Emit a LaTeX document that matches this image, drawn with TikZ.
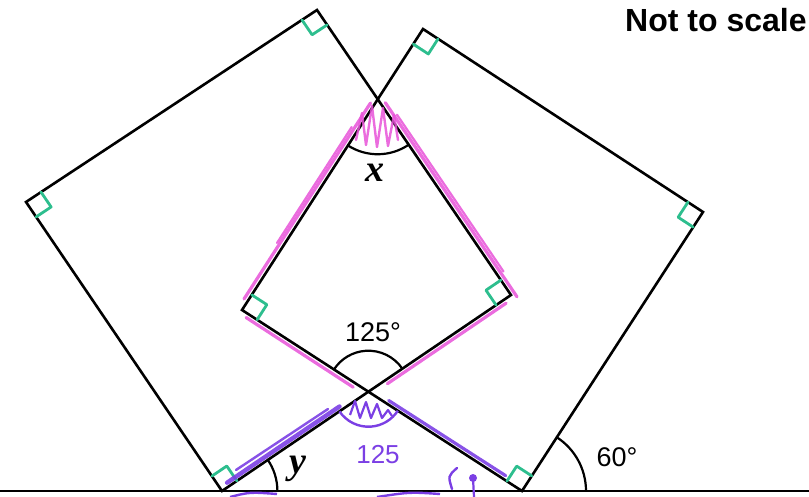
\documentclass[tikz,border=0pt]{standalone}
\usepackage{fontspec}
\setmainfont{Liberation Sans}
\newfontfamily\varserif{Liberation Serif}
\usetikzlibrary{calc,angles}
\definecolor{penpink}{HTML}{E752D8}
\definecolor{penpurple}{HTML}{7B3FE4}
\definecolor{pengreen}{HTML}{2DBE8E}

\begin{document}
\begin{tikzpicture}[x=0.5pt,y=-0.5pt,
  edge/.style={line width=1.3pt,line join=miter},
  ang/.style={draw,line width=1.1pt},
  hlpink/.style={penpink,line width=1.6pt,line cap=round,opacity=0.85},
  hlpurple/.style={penpurple,line width=2.2pt,line cap=round,opacity=0.9},
  tick/.style={pengreen,line width=1.4pt,line cap=round,line join=round},
  lbl/.style={font=\fontsize{13.5}{14}\selectfont,inner sep=0pt},
  var/.style={font=\varserif\bfseries\itshape\fontsize{19}{20}\selectfont,inner sep=0pt}]
\useasboundingbox (0,0) rectangle (809,497);
% corners of the two squares
\coordinate (P) at (222,491);
\coordinate (B) at (26,202);
\coordinate (C) at (317,10);
\coordinate (D) at (511,295);
\coordinate (Q) at (522,491);
\coordinate (R) at (703,212);
\coordinate (S) at (423,29);
\coordinate (T) at (242,310);
\coordinate (L0) at (0,491);
\coordinate (L1) at (809,491);
\coordinate (X1) at (intersection of C--D and T--S);
\coordinate (X2) at (intersection of D--P and T--Q);

% ground line and squares
\draw[edge] (L0) -- (L1);
\draw[edge] (P) -- (B) -- (C) -- (D) -- cycle;
\draw[edge] (Q) -- (R) -- (S) -- (T) -- cycle;

% angle arcs
\pic[ang,angle radius=27.5pt] {angle=T--X1--D};
\pic[ang,angle radius=20.5pt] {angle=D--X2--T};
\pic[ang,angle radius=27.7pt] {angle=Q--P--X2};
\pic[ang,angle radius=32pt] {angle=L1--Q--R};

% labels
\node[var] (lx) at (375,173) {x};
\node[var] (ly) at (298,469) {y};
\node[lbl] (a125) at (373,332) {125°};
\node[lbl] (a60) at (617,457) {60°};
\node[font=\bfseries\fontsize{16}{16}\selectfont,inner sep=0pt,anchor=base east] (nts) at (807,32) {Not to scale};

% green right-angle ticks
\foreach \c/\a/\b in {B/C/P,C/D/B,D/P/C,P/B/D,R/S/Q,S/T/R,T/Q/S,Q/R/T}
  \draw[tick] ($(\c)!9pt!(\a)$) -- ($(\c)!9pt!(\a) + (\c)!9pt!(\b) - (\c)$) -- ($(\c)!9pt!(\b)$);

% pink highlighting round the quadrilateral
\draw[hlpink] (244,299) -- (370.5,103);
\draw[hlpink,line width=1.1pt] (277,243) -- (351.7,127);
\draw[hlpink] (385.3,102.7) -- (517,296.8);
\draw[hlpink,line width=1.1pt] (397,114.7) -- (503.5,271.5);
\draw[hlpink] (246.1,317.5) -- (353.2,387.2);
\draw[hlpink] (506.1,303.2) -- (387.4,383.7);
\draw[hlpink,line width=1.2pt,line join=round] plot coordinates {(356,140) (362,113) (366,145) (372,106) (377,147) (383,108) (388,146) (394,115) (398,140)};

% purple highlighting round the lower triangle
\draw[hlpurple] (227.1,482.7) -- (339.5,406.5);
\draw[hlpurple,line width=1.2pt] (236,470) -- (328,409);
\draw[hlpurple,line width=1.6pt] (388.7,400.5) -- (505.7,475.7);
\pic[draw=penpurple,line width=1.2pt,angle radius=17.5pt] {angle=P--X2--Q};
\draw[penpurple,line width=1.1pt,line join=round] plot coordinates {(350,415) (355,401) (360,418) (366,402) (371,418) (377,404) (382,418) (388,410) (392,416)};
\node[text=penpurple,font=\fontsize{13}{13}\selectfont,inner sep=0pt] (h125) at (378,455) {125};
\draw[penpurple,line width=1.2pt,line cap=round] (457,468) .. controls (448,476) .. (452,489);
\fill[penpurple] (473,478) circle (2pt);
\draw[penpurple,line width=1.1pt] (473,478) -- (474,497);
\draw[penpurple,line width=1.2pt] (230,497) .. controls (250,492) .. (277,494);
\draw[penpurple,line width=1.2pt] (377,497) .. controls (410,492) .. (440,494);
\end{tikzpicture}
\end{document}
